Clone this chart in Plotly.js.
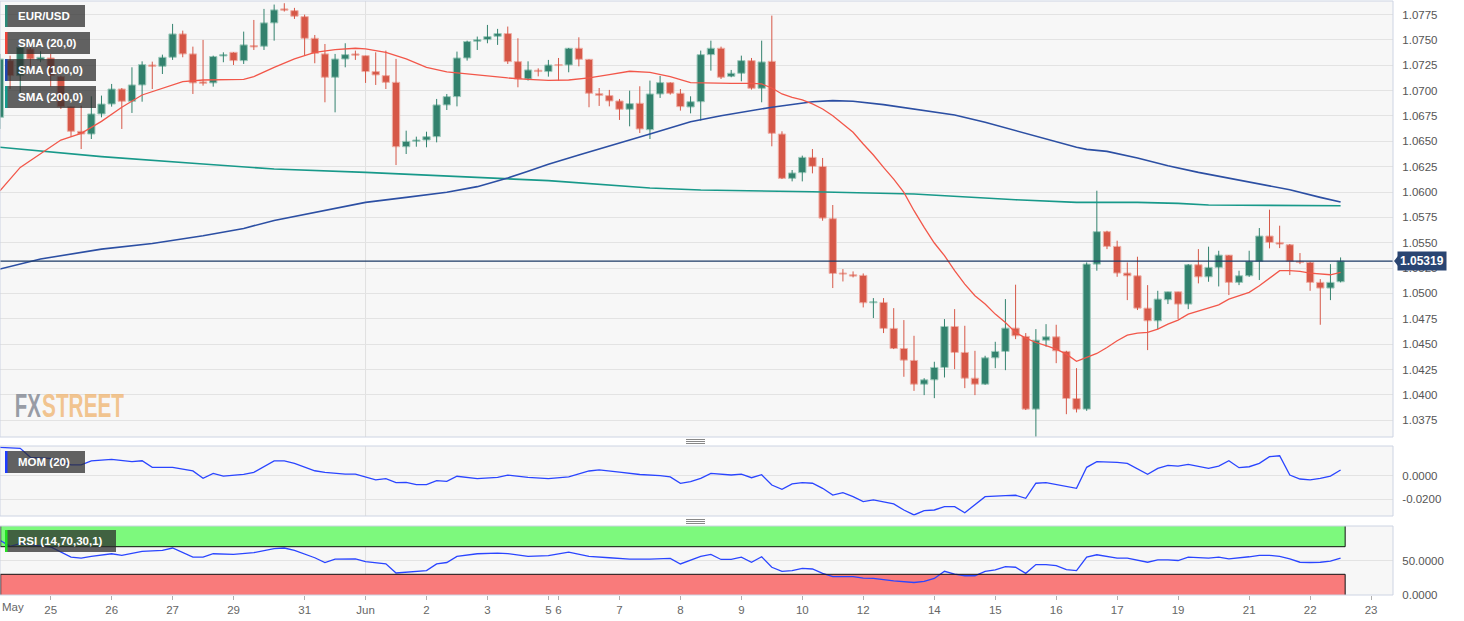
<!DOCTYPE html>
<html><head><meta charset="utf-8">
<script src="https://cdn.plot.ly/plotly-3.0.1.min.js"></script>
<style>html,body{margin:0;padding:0;background:#fff}#chart{width:1464px;height:621px}</style>
</head><body><div id="chart"></div>
<script>
// ---------- DATA (4-hour EUR/USD candles, index 0 = May 25 00:00) ----------
const firstIndex = -5;
const open = [1.06737,1.07296,1.07148,1.07411,1.07303,
1.07322,1.07138,1.06842,1.06599,1.06572,1.0677,1.06868,1.07016,1.06895,1.07056,1.07253,1.0724,1.07329,1.07559,1.07362,1.07086,1.07076,1.07342,1.07378,1.07296,
1.07444,1.07438,1.07668,1.07806,1.07789,1.0773,1.07516,1.07362,1.07132,1.07312,1.07362,1.07345,1.07188,1.07148,1.07082,1.06447,1.065,1.06513,1.06546,1.06859,
1.06941,1.07322,1.07487,1.07503,1.07536,1.07563,1.07286,1.07115,1.07201,1.07188,1.07257,1.07253,1.07418,1.07309,1.0697,1.06951,1.06898,1.06816,1.06875,1.06615,
1.06967,1.07079,1.06974,1.06839,1.06891,1.07355,1.07418,1.07141,1.07171,1.07296,1.07023,1.07289,1.06572,1.06135,1.06191,1.06342,1.06253,1.05737,1.05201,1.05184,
1.05178,1.04908,1.04911,1.04655,1.04457,1.04339,1.04105,1.04148,1.0427,1.04674,1.04418,1.04164,1.04105,1.04365,1.04428,1.04658,1.04576,1.03859,1.04539,1.04572,
1.04428,1.03964,1.03859,1.05289,1.05609,1.05464,1.05201,1.05174,1.04855,1.0473,1.04938,1.05016,1.04895,1.05283,1.05164,1.05257,1.05378,1.05109,1.05174,1.05316,
1.05566,1.05503,1.0548,1.05316,1.05306,1.05109,1.05053,1.05115];
const high = [1.07362,1.07345,1.07444,1.07428,1.07388,
1.07362,1.07148,1.06842,1.06852,1.06944,1.06951,1.07066,1.07026,1.0723,1.07289,1.07286,1.07355,1.07658,1.07592,1.07434,1.075,1.07345,1.07378,1.07378,1.07582,
1.07697,1.07806,1.07849,1.07862,1.07816,1.0775,1.07549,1.0746,1.07362,1.07467,1.07395,1.07345,1.07378,1.07395,1.07313,1.06605,1.06546,1.06595,1.06918,1.06967,
1.07385,1.07493,1.07533,1.07648,1.07609,1.07632,1.07516,1.07289,1.0722,1.07303,1.07322,1.07421,1.07526,1.07309,1.07026,1.07007,1.06918,1.07,1.07043,1.07099,
1.07145,1.07082,1.07016,1.06944,1.07395,1.07493,1.07434,1.07204,1.07345,1.07322,1.07493,1.0774,1.06599,1.06217,1.06359,1.06424,1.06336,1.05872,1.0524,1.05217,
1.05197,1.04954,1.04954,1.04855,1.04737,1.04582,1.04164,1.04326,1.04747,1.04845,1.04681,1.04434,1.04385,1.04523,1.04944,1.05086,1.04609,1.04648,1.04697,1.04691,
1.04434,1.04263,1.05306,1.06013,1.05618,1.0552,1.05306,1.05362,1.05082,1.05026,1.05016,1.05016,1.05289,1.05437,1.05461,1.05421,1.05378,1.05224,1.05421,1.05645,
1.05826,1.05668,1.05487,1.05398,1.05312,1.05141,1.05289,1.05355];
const low = [1.06622,1.07016,1.06967,1.0723,1.0728,
1.07039,1.06819,1.06546,1.06424,1.06523,1.06737,1.06842,1.06622,1.0678,1.06891,1.07016,1.07164,1.07303,1.07329,1.06967,1.07049,1.07039,1.0728,1.07253,1.07263,
1.07401,1.07401,1.07493,1.0778,1.07707,1.07345,1.0727,1.06885,1.06786,1.0723,1.07303,1.07076,1.07056,1.07016,1.06266,1.06375,1.06447,1.06441,1.0649,1.06809,
1.06845,1.07296,1.07401,1.07467,1.07451,1.07263,1.07033,1.07099,1.07141,1.07138,1.07099,1.07181,1.0724,1.06836,1.06849,1.06845,1.06711,1.06648,1.06582,1.06523,
1.06928,1.06961,1.06803,1.06776,1.06704,1.07197,1.07115,1.07132,1.07092,1.0701,1.06885,1.06451,1.06128,1.06105,1.06105,1.06184,1.05717,1.05053,1.05118,1.05158,
1.04862,1.04757,1.04609,1.04451,1.04178,1.04039,1.03997,1.03967,1.04171,1.04253,1.04066,1.03997,1.04099,1.04263,1.04243,1.04549,1.0385,1.03586,1.04474,1.04312,
1.03809,1.03826,1.03842,1.05224,1.05437,1.05164,1.04934,1.04836,1.04441,1.04648,1.04895,1.04747,1.04845,1.05099,1.05115,1.05069,1.04984,1.05082,1.05164,1.05132,
1.05444,1.05447,1.05181,1.05289,1.05026,1.04691,1.04934,1.05109];
const close = [1.07312,1.07148,1.07428,1.07312,1.07329,
1.07148,1.06842,1.06599,1.06572,1.0677,1.06868,1.07016,1.06895,1.07056,1.07257,1.0724,1.07329,1.07559,1.07362,1.07076,1.07072,1.07336,1.07355,1.07296,1.07451,
1.07431,1.07668,1.07796,1.07793,1.07734,1.07516,1.07368,1.07132,1.07312,1.07355,1.07349,1.07188,1.07155,1.07082,1.06447,1.065,1.06513,1.06546,1.06859,1.06941,
1.07322,1.07484,1.07503,1.07533,1.07563,1.07286,1.07115,1.07204,1.07188,1.07253,1.07247,1.07418,1.07309,1.06974,1.06954,1.06898,1.06816,1.06872,1.06622,1.06967,
1.07079,1.06974,1.06842,1.06891,1.07355,1.07418,1.07132,1.07171,1.07296,1.07023,1.07283,1.06579,1.06135,1.06188,1.06342,1.06253,1.05743,1.05197,1.05191,1.05171,
1.04908,1.04918,1.04655,1.04457,1.04342,1.04105,1.04148,1.0427,1.04674,1.04418,1.04164,1.04105,1.04365,1.04428,1.04658,1.04582,1.03859,1.04539,1.04572,1.04434,
1.03964,1.03859,1.05289,1.05609,1.05464,1.05201,1.05174,1.04855,1.0473,1.04944,1.05016,1.04895,1.05283,1.05164,1.05257,1.05378,1.05109,1.05174,1.05316,1.05566,
1.05503,1.05487,1.05316,1.05306,1.05109,1.05053,1.05109,1.05319];

const dayTickPos  = [0,6,12,18,25,31,37,43,49,50,56,62,68,74,80,87,93,99,105,111,118,124,130];
const dayTickText = ['25','26','27','29','31','Jun','2','3','5','6','7','8','9','10','12','14','15','16','17','19','21','22','23'];
const monthLabel = 'May';

const sma20Pos = [-5,-3,1,3,5,7,9,11,13,15,17,19,20,22,24,26,28,30,31,33,35,37,39,41,43,45,47,49,51,53,55,57,59,61,63,65,67,69,70,71,72,73,74,75,76,77,78,79,80,81,82,83,84,85,86,87,88,89,90,91,92,93,94,95,96,97,98,99,100,101,102,103,104,105,106,107,108,109,110,111,112,113,114,115,116,117,118,119,120,121,122,123,124,125,126,127];
const sma20Val = [1.06013,1.06243,1.06513,1.06579,1.06697,1.06836,1.06957,1.07026,1.07089,1.07105,1.07105,1.07112,1.07138,1.0723,1.07313,1.07378,1.07405,1.07418,1.07411,1.07378,1.07313,1.0723,1.07184,1.07164,1.07145,1.07125,1.07112,1.07102,1.07105,1.07125,1.07158,1.07191,1.07181,1.07138,1.07079,1.07072,1.07072,1.07072,1.07066,1.07026,1.06967,1.06934,1.06908,1.0687,1.06819,1.06753,1.06671,1.06589,1.06474,1.06365,1.06243,1.06128,1.05997,1.05816,1.05651,1.05497,1.05372,1.05224,1.05092,1.04977,1.04895,1.04796,1.04714,1.04615,1.04559,1.04516,1.04484,1.04451,1.04401,1.04331,1.0437,1.04408,1.04467,1.04533,1.04589,1.04609,1.04615,1.04648,1.04697,1.04737,1.04796,1.04829,1.04855,1.04888,1.04944,1.04977,1.0501,1.05076,1.05148,1.05224,1.05224,1.05217,1.05201,1.05191,1.05184,1.05207];
const sma100Pos = [-5,-1,5,10,15,19,22,27,31,35,39,42,45,47,49,52,55,59,63,66,71,75,77,79,82,85,89,92,95,98,101,102,104,107,110,113,116,119,122,125,127];
const sma100Val = [1.0524,1.05339,1.05437,1.05493,1.05569,1.05641,1.0572,1.05822,1.05898,1.05947,1.05997,1.06053,1.06138,1.06204,1.06273,1.06365,1.06457,1.06572,1.06694,1.06753,1.06836,1.0689,1.06901,1.06895,1.06862,1.06819,1.0676,1.06688,1.06605,1.06523,1.06441,1.06421,1.06401,1.06336,1.0626,1.06194,1.06138,1.06086,1.06023,1.05947,1.05901];
const sma200Pos = [-5,5,15,22,31,41,49,59,64,75,85,95,101,107,111,114,127];
const sma200Val = [1.06441,1.06349,1.06276,1.06227,1.06194,1.06145,1.06112,1.06039,1.0602,1.06003,1.0598,1.05924,1.05898,1.05898,1.05888,1.05872,1.05865];

const momPos = [-5,-3,-2,0,2,3,4,6,8,9,10,12,14,15,16,17,19,20,22,23,24,26,27,29,30,31,32,33,34,35,36,37,38,39,40,42,43,44,45,47,49,51,53,54,56,58,60,61,62,63,64,65,67,68,69,70,71,72,73,74,75,76,77,78,79,80,81,82,83,84,85,86,87,88,89,90,91,92,94,95,96,97,98,99,100,101,102,103,105,106,108,109,110,111,112,114,115,116,117,118,119,120,121,122,123,124,125,126,127];
const momVal = [0.0241,0.0232,0.0156,0.0147,0.0091,0.0091,0.0125,0.0139,0.0119,0.0127,0.0071,0.0071,0.004,-0.0022,0.002,-0.0003,0.0012,0.0029,0.0125,0.0125,0.0105,0.0042,0.0029,0.0014,0.0014,-0.0014,-0.0036,-0.0025,-0.0059,-0.0056,-0.0076,-0.0076,-0.0042,-0.0048,-0.0005,-0.0025,-0.0022,-0.0014,0.0005,-0.0015,-0.0025,-0.001,0.004,0.005,0.003,0.001,0.0,-0.001,-0.0065,-0.005,-0.0022,0.002,0.0006,0.0014,-0.0017,0.0008,-0.0079,-0.0115,-0.007,-0.0059,-0.0064,-0.0107,-0.0164,-0.0144,-0.0178,-0.022,-0.0206,-0.022,-0.024,-0.0291,-0.0333,-0.0297,-0.0291,-0.0263,-0.0263,-0.0314,-0.0248,-0.0178,-0.0169,-0.0166,-0.0192,-0.0064,-0.0059,-0.0073,-0.0093,-0.0107,0.0071,0.0119,0.0113,0.0105,0.0012,0.0062,0.0088,0.0082,0.0096,0.0062,0.0082,0.0127,0.0068,0.0076,0.0105,0.0161,0.0169,0.0006,-0.0028,-0.0036,-0.0022,-0.0003,0.0048];

const rsiPos = [-5,-4,-3,0,2,3,4,6,7,9,11,12,14,15,16,18,20,22,23,24,26,27,28,30,31,33,34,37,38,39,40,42,44,45,47,49,51,53,55,57,59,61,62,63,64,65,66,67,68,69,70,71,72,73,74,75,76,77,79,80,81,83,85,86,87,88,89,90,91,92,93,94,95,96,97,98,99,100,101,102,103,105,106,108,109,110,111,112,114,115,116,118,119,120,121,122,123,124,125,126,127];
const rsiVal = [79.4,70.6,74.5,69.6,54.9,53.4,55.9,59.8,57.4,63.2,64.7,68.1,54.9,54.9,59.8,58.8,61.3,67.2,68.1,64.7,54.0,47.1,51.9,52.5,48.5,45.1,31.9,35.3,45.1,47.1,55.9,59.8,60.7,60,56,57,62,56,54,52,52,53,45,50,55.9,58.8,51.5,51.5,54.9,47.5,55.4,40.2,34.3,35.3,38.7,37.7,31.4,26.5,26.5,24.5,24.0,20.6,18.1,19.6,24.0,34.3,30.4,27.9,27.9,34.3,36.3,41.2,40.2,31.4,44.1,44.1,42.6,36.8,35.3,54.9,58.3,53.4,53.4,47.5,51.0,51.0,50.0,54.9,53.4,54.9,52.5,55.4,57.4,57.4,55.9,52.5,47.5,47.1,47.5,49.0,53.4];
const rsiUpper = 70, rsiLower = 30;

const legendNames = ['EUR/USD','SMA (20,0)','SMA (100,0)','SMA (200,0)'];
const momName = 'MOM (20)';
const rsiName = 'RSI (14,70,30,1)';
const brandParts = ['FX','STREET'];

// ---------- BUILD ----------
const UP='#33826e', UP_EDGE='#9fcbbd', DN='#d65848', DN_EDGE='#efb1a8';
const xs = open.map((_, k) => firstIndex + k);
const up={x:[],base:[],h:[]}, dn={x:[],base:[],h:[]};
const wUp={x:[],y:[]}, wDn={x:[],y:[]};
xs.forEach((x,k)=>{
  const o=open[k], c=close[k];
  if (c>=o){ up.x.push(x); up.base.push(o); up.h.push(c-o); wUp.x.push(x,x,null); wUp.y.push(low[k],high[k],null); }
  else { dn.x.push(x); dn.base.push(c); dn.h.push(o-c); wDn.x.push(x,x,null); wDn.y.push(low[k],high[k],null); }
});
const lastIdx = xs[xs.length-1];
const lastClose = close[close.length-1];

const traces = [
  {type:'scatter',mode:'lines',x:wUp.x,y:wUp.y,line:{color:UP,width:1},xaxis:'x',yaxis:'y',hoverinfo:'skip'},
  {type:'scatter',mode:'lines',x:wDn.x,y:wDn.y,line:{color:DN,width:1},xaxis:'x',yaxis:'y',hoverinfo:'skip'},
  {type:'bar',x:up.x,y:up.h,base:up.base,width:0.72,marker:{color:UP,line:{color:UP_EDGE,width:1}},xaxis:'x',yaxis:'y'},
  {type:'bar',x:dn.x,y:dn.h,base:dn.base,width:0.72,marker:{color:DN,line:{color:DN_EDGE,width:1}},xaxis:'x',yaxis:'y'},
  {type:'scatter',mode:'lines',x:sma200Pos,y:sma200Val,line:{color:'#18998a',width:1.6},xaxis:'x',yaxis:'y'},
  {type:'scatter',mode:'lines',x:sma100Pos,y:sma100Val,line:{color:'#2c4fa3',width:1.6},xaxis:'x',yaxis:'y'},
  {type:'scatter',mode:'lines',x:sma20Pos,y:sma20Val,line:{color:'#f2574a',width:1.3},xaxis:'x',yaxis:'y'},
  {type:'scatter',mode:'lines',x:momPos,y:momVal,line:{color:'#2a45ff',width:1.3},xaxis:'x',yaxis:'y2'},
  {type:'scatter',mode:'lines',x:rsiPos,y:rsiVal,line:{color:'#2a45ff',width:1.3},xaxis:'x',yaxis:'y3'}
];

// pixel helpers for layout decorations (plot area: x 0..1393, y 1..595)
const PW=1393, PT=1, PH=594;
const pxX = p => p/PW;
const pxY = p => (PT+PH-p)/PH;
const xRange = [-4.992, 132.16];

const domMain=[pxY(437),1], domMom=[pxY(516),pxY(446)], domRsi=[0,pxY(526)];
const junPos = dayTickPos[dayTickText.indexOf('Jun')];

const shapes = [];
[domMain,domMom,domRsi].forEach(d=>{
  shapes.push({type:'line',xref:'x',yref:'paper',x0:junPos,x1:junPos,y0:d[0],y1:d[1],line:{color:'#e0e0e0',width:1},layer:'below'});
});
// RSI zones
shapes.push({type:'rect',xref:'x',yref:'y3',x0:xRange[0],x1:lastIdx+0.45,y0:rsiUpper,y1:100,fillcolor:'#7df97d',line:{width:0},layer:'below'});
shapes.push({type:'rect',xref:'x',yref:'y3',x0:xRange[0],x1:lastIdx+0.45,y0:0,y1:rsiLower,fillcolor:'#f97b7b',line:{width:0},layer:'below'});
const bl={color:'#111',width:1};
shapes.push({type:'line',xref:'x',yref:'y3',x0:xRange[0],x1:lastIdx+0.45,y0:rsiUpper,y1:rsiUpper,line:bl});
shapes.push({type:'line',xref:'x',yref:'y3',x0:lastIdx+0.45,x1:lastIdx+0.45,y0:rsiUpper,y1:100,line:bl});
shapes.push({type:'line',xref:'x',yref:'y3',x0:xRange[0],x1:lastIdx+0.45,y0:rsiLower,y1:rsiLower,line:bl});
shapes.push({type:'line',xref:'x',yref:'y3',x0:lastIdx+0.45,x1:lastIdx+0.45,y0:0,y1:rsiLower,line:bl});
shapes.push({type:'line',xref:'paper',yref:'y3',x0:0.0005,x1:0.0005,y0:0,y1:rsiLower,line:bl});
shapes.push({type:'line',xref:'paper',yref:'y3',x0:0.0005,x1:0.0005,y0:rsiUpper,y1:100,line:bl});
// price line
shapes.push({type:'line',xref:'paper',yref:'y',x0:0,x1:1,y0:lastClose,y1:lastClose,line:{color:'#1d3a66',width:1.2}});
// panel borders
[domMain,domMom,domRsi].forEach(d=>{
  shapes.push({type:'rect',xref:'paper',yref:'paper',x0:0,x1:1,y0:d[0],y1:d[1],line:{color:'#cdd4e3',width:1},fillcolor:'rgba(0,0,0,0)'});
});
// legend boxes
const boxes = [
  {t:legendNames[0],x1:85,y0:5,y1:27,c:'#2a8a78'},
  {t:legendNames[1],x1:90,y0:32,y1:54,c:'#f0443a'},
  {t:legendNames[2],x1:96,y0:59,y1:81,c:'#1f46b0'},
  {t:legendNames[3],x1:96,y0:86,y1:108,c:'#139a8c'},
  {t:momName,x1:85,y0:451,y1:473,c:'#1e3cff'},
  {t:rsiName,x1:116,y0:530,y1:552,c:'#22e022'}
];
const annotations = [];
boxes.forEach(b=>{
  shapes.push({type:'rect',xref:'paper',yref:'paper',x0:pxX(5),x1:pxX(b.x1),y0:pxY(b.y1),y1:pxY(b.y0),fillcolor:'rgba(45,45,45,0.74)',line:{width:0}});
  shapes.push({type:'rect',xref:'paper',yref:'paper',x0:pxX(5),x1:pxX(7.5),y0:pxY(b.y1),y1:pxY(b.y0),fillcolor:b.c,line:{width:0}});
  annotations.push({xref:'paper',yref:'paper',x:pxX(16),y:pxY((b.y0+b.y1)/2),xanchor:'left',yanchor:'middle',showarrow:false,
    text:'<b>'+b.t+'</b>',font:{family:'Liberation Sans, Arial, sans-serif',size:11.5,color:'#ffffff'}});
});
// pane handles
[439.5,441.5,443.5,519.5,521.5,523.5].forEach(y=>{
  shapes.push({type:'line',xref:'paper',yref:'paper',x0:pxX(686),x1:pxX(705),y0:pxY(y),y1:pxY(y),line:{color:'#888',width:1}});
});
// price tag arrow
shapes.push({type:'path',xref:'paper',yref:'y',xsizemode:'pixel',ysizemode:'pixel',xanchor:1,yanchor:lastClose,
  path:'M1,0 L5,5 L5,-5 Z',fillcolor:'#2a4572',line:{width:0}});

annotations.push({xref:'paper',yref:'y',x:1,y:lastClose,xanchor:'left',yanchor:'middle',xshift:4,showarrow:false,
  text:'<b>'+lastClose.toFixed(5)+'</b>',bgcolor:'#2a4572',borderpad:2,font:{family:'Liberation Sans, Arial, sans-serif',size:12,color:'#ffffff'}});
annotations.push({xref:'paper',yref:'paper',x:0,y:pxY(607),xanchor:'left',yanchor:'middle',showarrow:false,
  text:monthLabel,font:{family:'Liberation Sans, Arial, sans-serif',size:11.5,color:'#666'}});
// watermark (two parts, each squeezed to the reference width after render)
const brandSpec = [{cx:28, w:26, color:'rgba(135,140,150,0.85)'}, {cx:82.5, w:82, color:'rgba(240,182,115,0.8)'}];
brandParts.forEach((t,k)=>{
  annotations.push({xref:'paper',yref:'paper',x:pxX(brandSpec[k].cx),y:pxY(405),xanchor:'center',yanchor:'middle',showarrow:false,
    text:'<b>'+t+'</b>',font:{family:'Liberation Sans, Arial, sans-serif',size:34,color:brandSpec[k].color}});
});

const yFont = {family:'Liberation Sans, Arial, sans-serif',size:11.5,color:'#555'};
const layout = {
  width:1464, height:621, margin:{l:0,r:71,t:1,b:26,pad:0},
  paper_bgcolor:'#ffffff', plot_bgcolor:'#f7f7f7',
  showlegend:false, hovermode:false, barmode:'overlay',
  font:{family:'Liberation Sans, Arial, sans-serif',size:11.5,color:'#666'},
  xaxis:{domain:[0,1],range:xRange,anchor:'y3',tickmode:'array',tickvals:dayTickPos,ticktext:dayTickText,
    ticks:'outside',ticklen:4,tickcolor:'#b0b0b0',showgrid:false,zeroline:false,showline:false,
    tickfont:{family:'Liberation Sans, Arial, sans-serif',size:11.5,color:'#666'}},
  yaxis:{domain:domMain,range:[1.03584,1.07884],side:'right',anchor:'x',tick0:1.0375,dtick:0.0025,tickformat:'.4f',
    gridcolor:'#e3e3e3',zeroline:false,showline:false,ticks:'outside',ticklen:6,tickcolor:'rgba(0,0,0,0)',tickfont:yFont},
  yaxis2:{domain:domMom,range:[-0.0342,0.0252],side:'right',anchor:'x',tickmode:'array',tickvals:[0,-0.02],ticktext:['0.0000','-0.0200'],
    gridcolor:'#e3e3e3',zeroline:false,showline:false,ticks:'outside',ticklen:6,tickcolor:'rgba(0,0,0,0)',tickfont:yFont},
  yaxis3:{domain:domRsi,range:[0,100],side:'right',anchor:'x',tickmode:'array',tickvals:[0,50],ticktext:['0.0000','50.0000'],
    gridcolor:'#e3e3e3',zeroline:false,showline:false,ticks:'outside',ticklen:6,tickcolor:'rgba(0,0,0,0)',tickfont:yFont},
  shapes:shapes, annotations:annotations
};
Plotly.newPlot('chart', traces, layout, {staticPlot:true, displayModeBar:false}).then(gd=>{
  gd.querySelectorAll('.annotation-text').forEach(n=>{
    const k = brandParts.indexOf(n.textContent);
    if (k >= 0) {
      const w = brandSpec[k].w;
      n.setAttribute('textLength', String(w));
      n.setAttribute('lengthAdjust','spacingAndGlyphs');
      const grp = n.parentNode;
      const bg = grp ? grp.querySelector('rect.bg') : null;
      if (bg) {
        const ow = parseFloat(bg.getAttribute('width')) || 0;
        const ox = parseFloat(bg.getAttribute('x')) || 0;
        bg.setAttribute('x', String(ox + (ow - w) / 2));
        bg.setAttribute('width', String(w));
      }
    }
  });
});
</script>
</body></html>
